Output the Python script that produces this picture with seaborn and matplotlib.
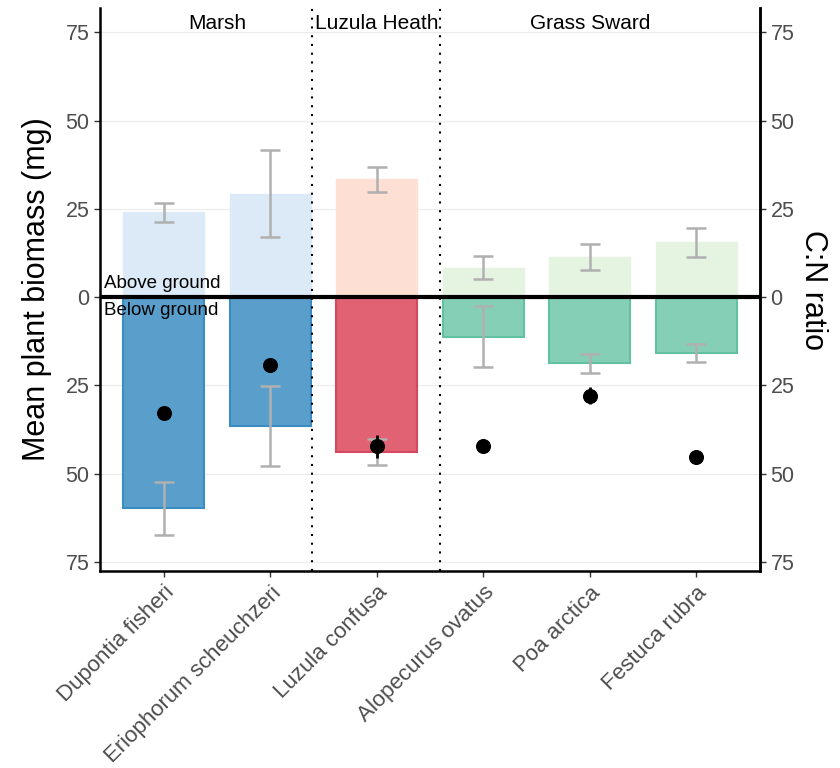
import numpy as np
import pandas as pd
import matplotlib
matplotlib.use("Agg")
import matplotlib.pyplot as plt
import seaborn as sns

species = ["Dupontia fisheri", "Eriophorum scheuchzeri", "Luzula confusa",
           "Alopecurus ovatus", "Poa arctica", "Festuca rubra"]
habitat = ["Marsh", "Marsh", "Luzula Heath", "Grass Sward", "Grass Sward", "Grass Sward"]

above_mean = [24.0, 29.3, 33.4, 8.3, 11.3, 15.5]
above_se = [2.7, 12.3, 3.5, 3.3, 3.7, 4.2]
below_mean = [59.8, 36.6, 43.9, 11.2, 18.8, 15.8]
below_se = [7.5, 11.3, 3.7, 8.7, 2.8, 2.5]
cn_ratio = [32.7, 19.3, 42.3, 42.3, 27.9, 45.3]
cn_se = [0.0, 0.0, 3.2, 1.0, 2.5, 0.0]

groups = ["Marsh", "Luzula Heath", "Grass Sward"]
group_label_x = [0.5, 2.0, 4.0]
group_breaks = [1.39, 2.59]
yticks = [-75, -50, -25, 0, 25, 50, 75]

above_col = {"Marsh": "#dce9f6", "Luzula Heath": "#fde0d3", "Grass Sward": "#e5f4e1"}
below_col = {"Marsh": "#5a9fcb", "Luzula Heath": "#e06273", "Grass Sward": "#85cfb6"}
below_edge = {"Marsh": "#3a8cc2", "Luzula Heath": "#d6485b", "Grass Sward": "#62c1a0"}

df = pd.DataFrame({
    "species": species,
    "habitat": habitat,
    "above": above_mean,
    "below": [-v for v in below_mean],
    "cn": [-v for v in cn_ratio],
})

sns.set_style("white")
plt.rcParams["font.family"] = ["Liberation Sans", "DejaVu Sans"]

fig = plt.figure(figsize=(8.4, 7.68), dpi=100)
ax = fig.add_axes([0.119, 0.2565, 0.786, 0.733])

for y in yticks:
    ax.axhline(y, color="#ebebeb", lw=0.8, zorder=0)

pal_above = {s: above_col[h] for s, h in zip(species, habitat)}
pal_below = {s: below_col[h] for s, h in zip(species, habitat)}

sns.barplot(data=df, x="species", y="above", hue="species", palette=pal_above,
            order=species, width=0.76, legend=False, errorbar=None, ax=ax,
            saturation=1, zorder=1)
n_above = len(ax.patches)
sns.barplot(data=df, x="species", y="below", hue="species", palette=pal_below,
            order=species, width=0.76, legend=False, errorbar=None, ax=ax,
            saturation=1, zorder=1)

for i, p in enumerate(ax.patches):
    if i < n_above:
        p.set_edgecolor(above_col[habitat[i % 6]])
        p.set_linewidth(1.0)
    else:
        p.set_edgecolor(below_edge[habitat[(i - n_above) % 6]])
        p.set_linewidth(1.5)

xs = np.arange(len(species))
ax.errorbar(xs, df["above"], yerr=above_se, fmt="none", ecolor="#b0b0b0",
            elinewidth=1.8, capsize=7.5, capthick=1.8, zorder=3)
ax.errorbar(xs, df["below"], yerr=below_se, fmt="none", ecolor="#b0b0b0",
            elinewidth=1.8, capsize=7.5, capthick=1.8, zorder=3)

ax.errorbar(xs, df["cn"], yerr=cn_se, fmt="none", ecolor="black",
            elinewidth=2, capsize=0, zorder=4)
sns.scatterplot(data=df, x="species", y="cn", color="black", s=100,
                edgecolor="black", ax=ax, zorder=5, legend=False)

ax.axhline(0, color="black", lw=3, zorder=6)
for b in group_breaks:
    ax.axvline(b, color="black", lw=1.5, ls=(0, (1, 3.2)), zorder=2)

for g, gx in zip(groups, group_label_x):
    ax.text(gx, 77.5, g, ha="center", va="center", fontsize=15, color="black")

ax.text(-0.56, 1.4, "Above ground", ha="left", va="bottom", fontsize=13.5, color="black")
ax.text(-0.56, -1.4, "Below ground", ha="left", va="top", fontsize=13.5, color="black")

ax.set_xlim(-0.6, 5.6)
ax.set_ylim(-77.6, 81.9)
ax.set_yticks(yticks)
ax.set_yticklabels([str(abs(v)) for v in yticks])
ax.set_xticks(xs)
ax.set_xticklabels(species, rotation=45, ha="right", rotation_mode="anchor",
                   fontsize=16, color="#4d4d4d")
ax.tick_params(axis="y", labelsize=15.5, labelcolor="#4d4d4d", length=4,
               width=1, color="#333333", left=True)
ax.tick_params(axis="x", length=4, width=1, color="#333333", bottom=True, pad=4)
ax.set_xlabel("")
ax.set_ylabel("Mean plant biomass (mg)", fontsize=22, color="black", labelpad=10)

for side in ["left", "bottom", "right"]:
    ax.spines[side].set_visible(True)
    ax.spines[side].set_color("black")
    ax.spines[side].set_linewidth(1.8)
ax.spines["top"].set_visible(False)

ax2 = ax.twinx()
ax2.set_ylim(ax.get_ylim())
ax2.set_yticks(yticks)
ax2.set_yticklabels([str(abs(v)) for v in yticks])
ax2.tick_params(axis="y", labelsize=15.5, labelcolor="#4d4d4d", length=4,
                width=1, color="#333333", right=True)
ax2.set_ylabel("C:N ratio", fontsize=22, color="black", rotation=-90, labelpad=24)
for side in ["left", "bottom", "top"]:
    ax2.spines[side].set_visible(False)
ax2.spines["right"].set_color("black")
ax2.spines["right"].set_linewidth(1.8)

fig.savefig("out.png", dpi=100, facecolor="white")
